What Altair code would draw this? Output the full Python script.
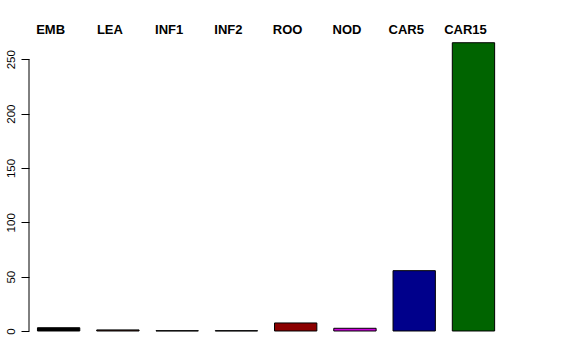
import altair as alt
import pandas as pd

categories = ["EMB", "LEA", "INF1", "INF2", "ROO", "NOD", "CAR5", "CAR15"]
values = [3.0, 1.0, 0.3, 0.3, 7.4, 2.5, 55.5, 265.2]
colors = ["#000000", "#5a2a1a", "#4f6a4f", "#4a3f6a", "#8B0000", "#CC00DD", "#00008B", "#006400"]
y_ticks = [0, 50, 100, 150, 200, 250]

# bar layout (R barplot style: width 1, space 0.4)
space = 0.4
rows = []
for i, (c, v, col) in enumerate(zip(categories, values, colors)):
    left = space + i * (1 + space)
    rows.append({"cat": c, "val": v, "col": col, "x0": left, "x1": left + 1, "xc": left + 0.5, "base": 0})
df = pd.DataFrame(rows)

xscale = alt.Scale(domain=[0.2, 12.437], nice=False, zero=False)
yscale = alt.Scale(domain=[-12.88, 286.1], nice=False, zero=False)

base = alt.Chart(df)

bars = base.mark_bar(stroke="black", strokeWidth=1).encode(
    x=alt.X("x0:Q", scale=xscale, axis=None),
    x2="x1:Q",
    y=alt.Y("val:Q", scale=yscale,
            axis=alt.Axis(values=y_ticks, domain=False, grid=False, tickSize=8,
                          tickColor="black", tickWidth=1, labelAngle=270,
                          labelAlign="center", labelBaseline="alphabetic",
                          labelPadding=7, labelFontSize=11.5, labelColor="black",
                          labelFont="Liberation Sans", labelOverlap=False,
                          labelFlush=False, title=None)),
    y2="base:Q",
    color=alt.Color("col:N", scale=None),
)

axis_line = alt.Chart(pd.DataFrame({"a": [0]})).mark_rule(color="black", strokeWidth=1).encode(
    x=alt.value(0),
    y=alt.datum(0, scale=yscale),
    y2=alt.datum(250),
)

labels = base.mark_text(font="Liberation Sans", fontWeight="bold", fontSize=13,
                        align="center", baseline="alphabetic", dx=-8, color="black").encode(
    x=alt.X("xc:Q", scale=xscale),
    y=alt.value(14),
    text="cat:N",
)

chart = alt.layer(bars, axis_line, labels).properties(
    width=518, height=325,
    padding={"left": 29, "top": 20, "right": 29, "bottom": 15},
    autosize="none",
    background="white",
).configure_view(stroke=None)

chart.save("out.html", embed_options={"renderer": "svg", "actions": False})
